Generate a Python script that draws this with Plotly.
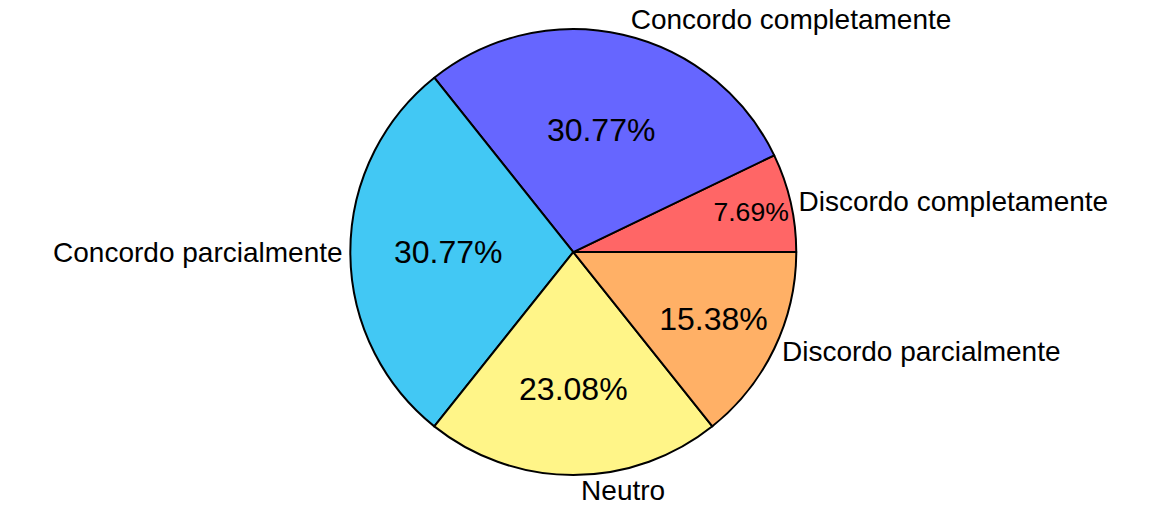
import plotly.graph_objects as go

# Survey responses (share of respondents, %)
categories = [
    "Discordo completamente",
    "Concordo completamente",
    "Concordo parcialmente",
    "Neutro",
    "Discordo parcialmente",
]
shares = [7.69, 30.77, 30.77, 23.08, 15.38]
slice_colors = ["#FF6666", "#6666FF", "#42C8F4", "#FFF588", "#FFB066"]

# First slice begins at 3 o'clock and the rest follow counterclockwise
start_rotation = 90 - 360 * shares[0] / sum(shares)

domain = dict(x=[0.1, 0.875], y=[0.0686, 0.943])
pct_font = dict(family="Liberation Sans, Arial, sans-serif", size=32, color="black")
label_font = dict(family="Liberation Sans, Arial, sans-serif", size=28, color="black")

fig = go.Figure()

# Filled slices with the percentage inside
fig.add_trace(go.Pie(
    labels=categories,
    values=shares,
    sort=False,
    direction="counterclockwise",
    rotation=start_rotation,
    domain=domain,
    marker=dict(colors=slice_colors, line=dict(color="black", width=2)),
    texttemplate="%{value:.2f}%",
    textposition="inside",
    insidetextorientation="horizontal",
    textfont=pct_font,
    showlegend=False,
    automargin=False,
    hoverinfo="label+value",
))

# Category names outside each slice
fig.add_trace(go.Pie(
    labels=categories,
    values=shares,
    sort=False,
    direction="counterclockwise",
    rotation=start_rotation,
    domain=domain,
    marker=dict(colors=["rgba(0,0,0,0)"] * len(categories), line=dict(width=0)),
    textinfo="label",
    textposition="outside",
    textfont=label_font,
    showlegend=False,
    automargin=False,
    hoverinfo="skip",
))

fig.update_layout(
    width=1176,
    height=510,
    margin=dict(l=0, r=0, t=0, b=0),
    paper_bgcolor="white",
    plot_bgcolor="white",
    showlegend=False,
    font=pct_font,
)

fig.write_html("out.html")
